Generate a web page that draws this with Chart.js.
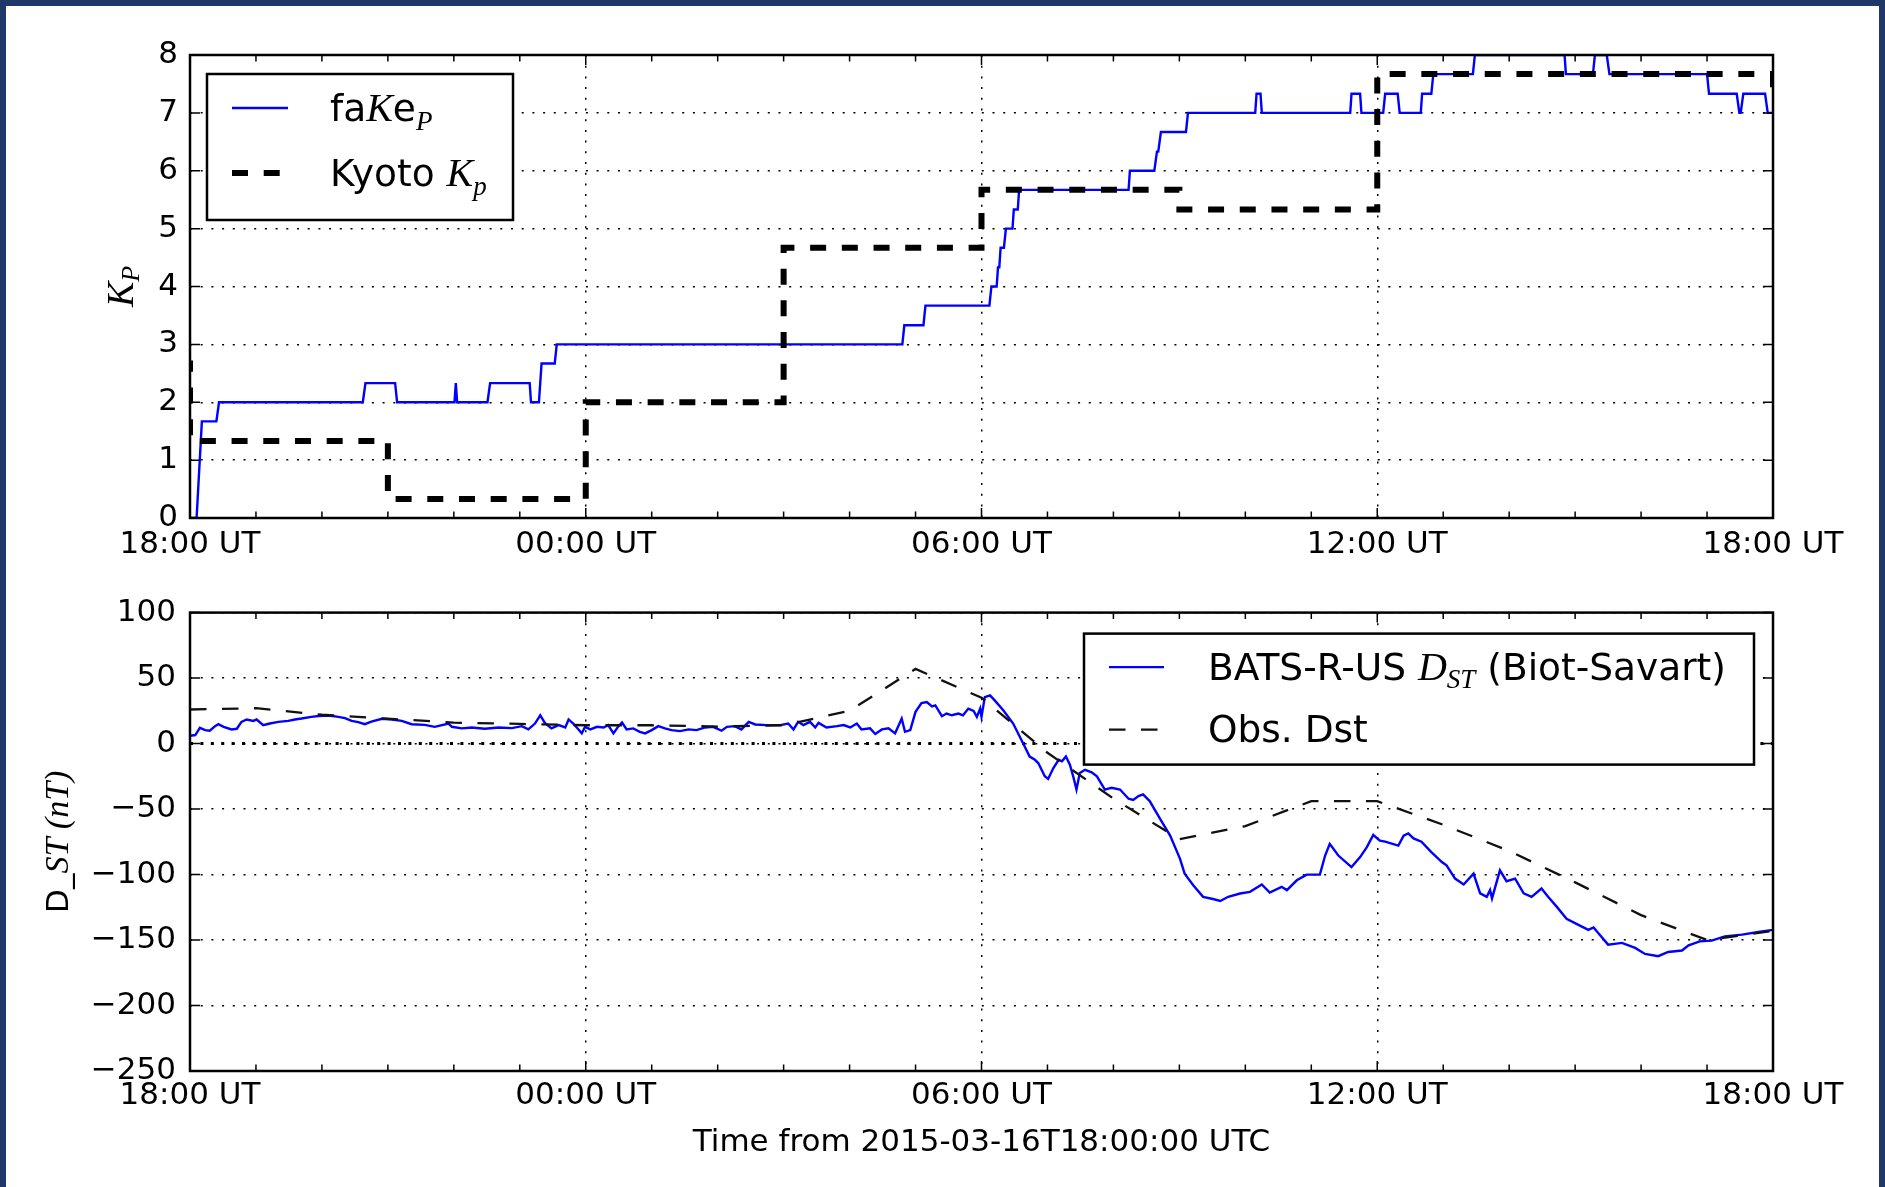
<!DOCTYPE html>
<html>
<head>
<meta charset="utf-8">
<script src="https://cdn.jsdelivr.net/npm/chart.js@4/dist/chart.umd.min.js"></script>
<style>
  html, body { margin: 0; padding: 0; background: #fff; }
  #frame { position: absolute; left: 0; top: 0; width: 1885px; height: 1187px; box-sizing: border-box;
           border: 6px solid #1f3868; border-bottom: none; background: #fff; }
  canvas { position: absolute; left: 0; }
  #kpChart { top: 0; }
  #dstChart { top: 580px; }
</style>
</head>
<body>
<div id="frame"></div>
<canvas id="kpChart" width="1885" height="580"></canvas>
<canvas id="dstChart" width="1885" height="607"></canvas>
<script>
// ---------------- DATA (hours after 2015-03-16T18:00 UTC) ----------------
const xTickHours  = [0, 6, 12, 18, 24];
const xTickLabels = ['18:00 UT', '00:00 UT', '06:00 UT', '12:00 UT', '18:00 UT'];
const xAxisTitle  = 'Time from 2015-03-16T18:00:00 UTC';

// faKe_P (model Kp)
const fakeKpHours = [0, 0.10, 0.18, 0.40, 0.44, 2.62, 2.66, 3.11, 3.14, 4.01, 4.03, 4.05, 4.51, 4.55, 5.15, 5.17,
  5.29, 5.33, 5.53, 5.56, 10.80, 10.83, 11.12, 11.15, 12.12, 12.15, 12.23, 12.25, 12.27, 12.29, 12.34, 12.37,
  12.47, 12.49, 12.55, 12.57, 14.23, 14.25, 14.62, 14.66, 14.68, 14.72, 15.10, 15.13, 16.15, 16.17, 16.23, 16.25,
  17.59, 17.61, 17.74, 17.76, 18.09, 18.12, 18.31, 18.34, 18.66, 18.68, 18.82, 18.85, 19.45, 19.48, 20.84, 20.86,
  21.27, 21.30, 21.48, 21.52, 23.00, 23.03, 23.45, 23.49, 23.51, 23.55, 23.88, 23.92, 24];
const fakeKpValues = [0, 0, 1.67, 1.67, 2, 2, 2.33, 2.33, 2, 2, 2.33, 2, 2, 2.33, 2.33, 2,
  2, 2.67, 2.67, 3, 3, 3.33, 3.33, 3.67, 3.67, 4, 4, 4.33, 4.33, 4.67, 4.67, 5,
  5, 5.33, 5.33, 5.67, 5.67, 6, 6, 6.33, 6.33, 6.67, 6.67, 7, 7, 7.33, 7.33, 7,
  7, 7.33, 7.33, 7, 7, 7.33, 7.33, 7, 7, 7.33, 7.33, 7.67, 7.67, 8, 8, 7.67,
  7.67, 8, 8, 7.67, 7.67, 7.33, 7.33, 7, 7, 7.33, 7.33, 7, 7];

// Kyoto Kp (3-hourly, held until next value)
const kyotoKpHours  = [-3, 0, 3, 6, 9, 12, 15, 18, 21, 24];
const kyotoKpValues = [2.67, 1.33, 0.33, 2, 4.67, 5.67, 5.33, 7.67, 7.67, 7.33];

// Observed Dst (hourly)
const dstObsHours  = [0, 1, 2, 3, 4, 5, 6, 7, 8, 9, 10, 11, 12, 13, 14, 15, 16, 17, 18, 19, 20, 21, 22, 23, 24];
const dstObsValues = [26, 27, 22, 19, 16, 15, 14, 14, 13, 14, 25, 57, 35, -7, -42, -73, -63, -44, -44, -62, -82, -106, -131, -150, -143];

// BATS-R-US Dst (Biot-Savart)
const dstModelHours = [0.00, 0.08, 0.15, 0.23, 0.30, 0.38, 0.43, 0.51, 0.63, 0.71, 0.78, 0.86, 0.96, 1.01, 1.11, 1.21,
  1.34, 1.49, 1.59, 1.69, 1.84, 1.95, 2.10, 2.25, 2.35, 2.45, 2.55, 2.65, 2.75, 2.91, 3.06, 3.21,
  3.36, 3.56, 3.71, 3.92, 3.97, 4.12, 4.27, 4.47, 4.68, 4.88, 5.03, 5.13, 5.23, 5.31, 5.38, 5.48,
  5.59, 5.69, 5.74, 5.81, 5.89, 5.94, 5.99, 6.07, 6.17, 6.27, 6.34, 6.42, 6.49, 6.55, 6.62, 6.72,
  6.82, 6.90, 7.00, 7.10, 7.20, 7.30, 7.43, 7.56, 7.68, 7.81, 7.93, 8.06, 8.14, 8.26, 8.36, 8.47,
  8.57, 8.74, 8.95, 9.07, 9.15, 9.22, 9.30, 9.40, 9.48, 9.53, 9.65, 9.81, 9.91, 10.01, 10.11, 10.18,
  10.31, 10.39, 10.49, 10.59, 10.69, 10.79, 10.84, 10.92, 11.00, 11.09, 11.17, 11.25, 11.30, 11.40, 11.47, 11.55,
  11.65, 11.72, 11.80, 11.88, 11.93, 11.98, 12.00, 12.05, 12.13, 12.20, 12.33, 12.48, 12.63, 12.73, 12.81, 12.86,
  12.96, 13.01, 13.09, 13.17, 13.22, 13.28, 13.34, 13.39, 13.44, 13.49, 13.57, 13.67, 13.75, 13.87, 13.97, 14.10,
  14.23, 14.30, 14.38, 14.45, 14.55, 14.71, 14.86, 15.01, 15.08, 15.21, 15.36, 15.51, 15.62, 15.74, 15.92, 16.07,
  16.25, 16.37, 16.55, 16.63, 16.78, 16.93, 17.13, 17.21, 17.28, 17.41, 17.61, 17.74, 17.84, 17.94, 18.04, 18.12,
  18.32, 18.40, 18.47, 18.55, 18.67, 18.82, 18.98, 19.05, 19.18, 19.31, 19.46, 19.56, 19.66, 19.71, 19.74, 19.86,
  19.96, 20.09, 20.22, 20.34, 20.49, 20.59, 20.72, 20.87, 21.05, 21.20, 21.28, 21.35, 21.50, 21.71, 21.91, 22.06,
  22.26, 22.41, 22.62, 22.72, 22.89, 23.07, 23.27, 23.53, 23.78, 24.00];
const dstModelValues = [6.0, 6.5, 12.0, 10.3, 9.8, 13.3, 14.8, 12.8, 10.8, 11.3, 16.6, 18.4, 17.3, 18.4, 14.1, 15.3,
  16.6, 17.3, 18.4, 19.1, 20.4, 21.1, 21.4, 20.4, 19.4, 17.3, 16.4, 14.8, 16.8, 18.9, 18.4, 17.3,
  14.8, 14.3, 12.8, 15.3, 12.8, 11.6, 12.3, 11.3, 12.3, 11.8, 13.3, 10.8, 15.3, 21.6, 15.8, 11.6,
  14.1, 12.3, 18.4, 15.3, 10.8, 7.8, 12.8, 10.8, 12.8, 12.3, 14.1, 7.8, 12.8, 16.1, 10.8, 11.6,
  9.0, 7.8, 10.3, 13.3, 11.6, 10.3, 9.5, 10.8, 10.3, 12.3, 12.8, 9.8, 12.8, 13.3, 10.8, 16.6,
  14.6, 14.1, 14.1, 15.3, 10.8, 16.6, 14.1, 16.6, 12.3, 15.8, 12.3, 13.3, 14.1, 12.3, 15.3, 10.8,
  11.6, 7.3, 10.8, 11.6, 7.8, 19.1, 9.0, 10.3, 24.2, 30.9, 31.7, 28.4, 29.2, 20.9, 22.9, 21.6,
  22.9, 21.6, 26.7, 24.9, 20.4, 26.7, 20.4, 35.5, 36.8, 33.0, 25.4, 15.3, 0.2, -9.9, -12.4, -14.9,
  -25.0, -27.0, -18.7, -12.4, -13.6, -9.9, -16.2, -25.0, -35.1, -22.5, -20.0, -22.0, -25.0, -35.1, -33.8, -35.1,
  -42.1, -43.1, -40.1, -38.8, -43.9, -57.7, -70.3, -88.0, -99.3, -108.1, -117.0, -118.7, -120.2, -117.0, -114.5, -113.2,
  -107.6, -113.7, -109.4, -111.9, -104.4, -100.1, -100.1, -85.5, -76.6, -85.5, -94.3, -86.7, -79.2, -69.8, -74.1, -74.9,
  -77.9, -70.3, -68.6, -72.4, -74.9, -82.9, -90.5, -93.0, -103.1, -107.6, -99.3, -114.4, -117.0, -111.9, -118.2, -96.8,
  -105.1, -103.1, -114.4, -117.0, -110.7, -117.0, -124.5, -133.8, -138.4, -142.2, -140.4, -144.7, -153.5, -152.2, -156.0, -160.6,
  -162.3, -159.1, -158.0, -154.0, -151.0, -150.5, -147.2, -145.9, -143.9, -142.2];

// Legend / axis label texts (rich text segments)
const kpLegendTexts = [
  [{t: 'fa'}, {t: 'K', math: 1}, {t: 'e'}, {t: 'P', math: 1, sub: 1}],
  [{t: 'Kyoto '}, {t: 'K', math: 1}, {t: 'p', math: 1, sub: 1}]
];
const dstLegendTexts = [
  [{t: 'BATS-R-US '}, {t: 'D', math: 1}, {t: 'ST', math: 1, sub: 1}, {t: ' (Biot-Savart)'}],
  [{t: 'Obs. Dst'}]
];
const kpAxisTitle  = [{t: 'K', math: 1}, {t: 'P', math: 1, sub: 1}];
const dstAxisTitle = [{t: 'D_'}, {t: 'ST (nT)', math: 1}];

// ---------------- helpers ----------------
const SANS = "'DejaVu Sans', sans-serif";
const MATHF = "'Liberation Serif', 'DejaVu Serif', serif";
const toXY = (xs, ys) => xs.map((x, i) => ({x, y: ys[i]}));

function segFont(s, f) {
  const size = s.sub ? f.sub : (s.math ? f.math : f.reg);
  return (s.math ? 'italic ' : '') + size + 'px ' + (s.math ? MATHF : SANS);
}
function richWidth(ctx, segs, f) {
  let w = 0;
  for (const s of segs) { ctx.font = segFont(s, f); w += ctx.measureText(s.t).width; }
  return w;
}
function drawRich(ctx, segs, x, y, f) {
  let cx = x;
  ctx.textBaseline = 'alphabetic'; ctx.textAlign = 'left'; ctx.fillStyle = '#000';
  for (const s of segs) {
    ctx.font = segFont(s, f);
    ctx.fillText(s.t, cx, y + (s.sub ? f.subShift : 0));
    cx += ctx.measureText(s.t).width;
  }
}

const framePlugin = {
  id: 'mplFrame',
  afterDatasetsDraw(chart) {
    const {ctx, chartArea: a, scales: {x, y}} = chart;
    ctx.save();
    ctx.strokeStyle = '#000'; ctx.setLineDash([]); ctx.lineCap = 'butt';
    ctx.lineWidth = 1.5;
    ctx.beginPath();
    for (let h = x.min; h <= x.max; h += 1) {
      const px = x.getPixelForValue(h);
      const len = (h % 6 === 0) ? 10 : 6.5;
      ctx.moveTo(px, a.top); ctx.lineTo(px, a.top + len);
      ctx.moveTo(px, a.bottom); ctx.lineTo(px, a.bottom - len);
    }
    y.ticks.forEach(t => {
      const py = y.getPixelForValue(t.value);
      ctx.moveTo(a.left, py); ctx.lineTo(a.left + 10, py);
      ctx.moveTo(a.right, py); ctx.lineTo(a.right - 10, py);
    });
    ctx.stroke();
    ctx.lineWidth = 2.5;
    ctx.strokeRect(a.left, a.top, a.right - a.left, a.bottom - a.top);
    ctx.restore();
  }
};

const zeroLinePlugin = {
  id: 'zeroLine',
  beforeDatasetsDraw(chart) {
    const {ctx, chartArea: a, scales: {y}} = chart;
    const py = y.getPixelForValue(0);
    ctx.save();
    ctx.strokeStyle = '#000'; ctx.lineWidth = 3; ctx.setLineDash([3, 7.4]);
    ctx.beginPath(); ctx.moveTo(a.left, py); ctx.lineTo(a.right, py); ctx.stroke();
    ctx.restore();
  }
};

function makeLegend(cfg) {
  return {
    id: 'richLegend',
    afterDraw(chart) {
      const {ctx, chartArea: a} = chart;
      const left = cfg.anchor === 'right' ? a.right - cfg.offX - cfg.w : a.left + cfg.offX;
      const top = a.top + cfg.offY;
      ctx.save();
      ctx.fillStyle = '#fff'; ctx.fillRect(left, top, cfg.w, cfg.h);
      ctx.strokeStyle = '#000'; ctx.lineWidth = 2.5; ctx.setLineDash([]);
      ctx.strokeRect(left, top, cfg.w, cfg.h);
      cfg.items.forEach((it, i) => {
        const ds = chart.data.datasets[it.ds];
        const y = top + cfg.rows[i];
        ctx.save();
        ctx.strokeStyle = ds.borderColor; ctx.lineWidth = ds.borderWidth;
        ctx.setLineDash(ds.borderDash || []); ctx.lineCap = 'butt';
        ctx.beginPath(); ctx.moveTo(left + cfg.sample[0], y); ctx.lineTo(left + cfg.sample[1], y); ctx.stroke();
        ctx.restore();
        drawRich(ctx, it.segs, left + cfg.textX, y + cfg.baseOff, cfg.font);
      });
      ctx.restore();
    }
  };
}

function makeYTitle(segs, baseX, font) {
  return {
    id: 'richYTitle',
    afterDraw(chart) {
      const {ctx, chartArea: a} = chart;
      const cy = (a.top + a.bottom) / 2;
      ctx.save();
      const w = richWidth(ctx, segs, font);
      ctx.translate(baseX, cy);
      ctx.rotate(-Math.PI / 2);
      drawRich(ctx, segs, -w / 2, 0, font);
      ctx.restore();
    }
  };
}

const fmtY = v => (v < 0 ? '\u2212' + Math.abs(v) : String(v));
const gridCfg = {color: '#000', lineWidth: 1.5, drawTicks: false, tickLength: 0, borderDash: [2, 8.7]};
const borderCfg = {display: false, dash: [2, 8.7]};

function xScale(labelPad, height, title) {
  return {
    type: 'linear', min: 0, max: 24,
    ticks: {
      stepSize: 6, autoSkip: false, maxRotation: 0, minRotation: 0, padding: labelPad, color: '#000',
      font: {family: SANS, size: 31},
      callback: v => { const i = xTickHours.indexOf(v); return i >= 0 ? xTickLabels[i] : ''; }
    },
    grid: gridCfg, border: borderCfg,
    title: title ? {display: true, text: title, color: '#000', font: {family: SANS, size: 31}, padding: {top: 0, bottom: 25}}
                 : {display: false},
    afterFit: s => { s.height = height; }
  };
}
function yScale(min, max, step, labelPad) {
  return {
    type: 'linear', min, max,
    ticks: {stepSize: step, padding: labelPad, color: '#000', font: {family: SANS, size: 31}, callback: fmtY},
    grid: gridCfg, border: borderCfg,
    afterFit: s => { s.width = 190; }
  };
}

Chart.defaults.font.family = SANS;

// ---------------- Kp chart ----------------
new Chart(document.getElementById('kpChart'), {
  type: 'line',
  data: {
    datasets: [
      {label: 'faKeP', data: toXY(fakeKpHours, fakeKpValues), borderColor: '#0000ff', borderWidth: 2.4,
       pointRadius: 0, tension: 0, fill: false, clip: 0, order: 1},
      {label: 'Kyoto Kp', data: toXY(kyotoKpHours, kyotoKpValues), borderColor: '#000000', borderWidth: 6,
       borderDash: [16, 15.7], stepped: true, pointRadius: 0, fill: false, clip: 0, order: 0}
    ]
  },
  options: {
    responsive: false, animation: false, devicePixelRatio: 1,
    layout: {padding: {left: 0, right: 112, top: 55, bottom: 0}},
    plugins: {legend: {display: false}, tooltip: {enabled: false}},
    scales: {x: xScale(8, 62, null), y: yScale(0, 8, 1, 12)}
  },
  plugins: [framePlugin,
    makeLegend({anchor: 'left', offX: 17, offY: 19, w: 306, h: 146, rows: [34, 99], sample: [25, 81],
      textX: 123, baseOff: 13, font: {reg: 37.5, math: 40, sub: 27, subShift: 8.5},
      items: [{ds: 0, segs: kpLegendTexts[0]}, {ds: 1, segs: kpLegendTexts[1]}]}),
    makeYTitle(kpAxisTitle, 133, {reg: 31, math: 38, sub: 26, subShift: 6})]
});

// ---------------- Dst chart ----------------
new Chart(document.getElementById('dstChart'), {
  type: 'line',
  data: {
    datasets: [
      {label: 'BATS-R-US DST (Biot-Savart)', data: toXY(dstModelHours, dstModelValues), borderColor: '#0000ff',
       borderWidth: 2.4, pointRadius: 0, tension: 0, fill: false, clip: 0, order: 1},
      {label: 'Obs. Dst', data: toXY(dstObsHours, dstObsValues), borderColor: '#111111', borderWidth: 2.3,
       borderDash: [16.5, 15.5], pointRadius: 0, tension: 0, fill: false, clip: 0, order: 0}
    ]
  },
  options: {
    responsive: false, animation: false, devicePixelRatio: 1,
    layout: {padding: {left: 0, right: 112, top: 28, bottom: 0}},
    plugins: {legend: {display: false}, tooltip: {enabled: false}},
    scales: {x: xScale(6, 116, xAxisTitle), y: yScale(-250, 100, 50, 14)}
  },
  plugins: [zeroLinePlugin, framePlugin,
    makeLegend({anchor: 'right', offX: 19, offY: 21, w: 670, h: 131, rows: [33.5, 96], sample: [25, 80],
      textX: 124, baseOff: 12.5, font: {reg: 37.5, math: 40, sub: 27, subShift: 8.5},
      items: [{ds: 0, segs: dstLegendTexts[0]}, {ds: 1, segs: dstLegendTexts[1]}]}),
    makeYTitle(dstAxisTitle, 68, {reg: 31, math: 34, sub: 24, subShift: 6})]
});
</script>
</body>
</html>
